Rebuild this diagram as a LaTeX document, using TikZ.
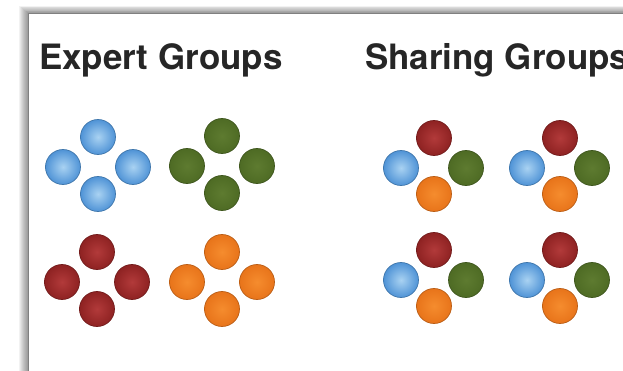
\documentclass[tikz,border=0pt]{standalone}
\usepackage{fontspec}
\newfontfamily\headfont{TeX Gyre Heros}
\definecolor{ballblue}{HTML}{4F93D6}
\definecolor{ballbluein}{HTML}{A9D2F2}
\definecolor{ballgreen}{HTML}{4E6B24}
\definecolor{ballgreenin}{HTML}{5E7B30}
\definecolor{ballred}{HTML}{8E2222}
\definecolor{ballredin}{HTML}{B23A3A}
\definecolor{ballorange}{HTML}{E8741A}
\definecolor{ballorangein}{HTML}{F58C2E}

\begin{document}
\begin{tikzpicture}[x=0.03cm, y=-0.03cm,
    ball/.style={circle, minimum size=1.05cm, inner sep=0pt, line width=0.6pt,
      draw=#1!80!black, inner color=#1in, outer color=#1},
    title/.style={anchor=base west, font=\headfont\bfseries\fontsize{29.8}{33}\selectfont,
      text=black!85, inner sep=0pt}]
  \useasboundingbox (0,0) rectangle (623,371);
  % frame with its shadow
  \foreach \i in {0,...,9}
    \fill[black, opacity=0.05] (28-\i,13-0.8*\i) rectangle (700,450);
  \fill[white] (28,13) rectangle (700,450);
  \draw[black!50, line width=0.7pt] (28,450) -- (28,13) -- (700,13);

  \node[title] (experttitle) at (39,70) {Expert Groups};
  \node[title] (sharingtitle) at (365,70) {Sharing Groups};

  % expert groups: one colour each
  \foreach \g/\cx/\cy/\col in {eb/98/167/ballblue, eg/222/166/ballgreen,
      er/97/282/ballred, eo/222/282/ballorange} {
    \node[ball=\col] (\g-t) at (\cx,\cy-30) {};
    \node[ball=\col] (\g-l) at (\cx-35,\cy) {};
    \node[ball=\col] (\g-r) at (\cx+35,\cy) {};
    \node[ball=\col] (\g-b) at (\cx,\cy+27) {};
  }

  % sharing groups: one of each colour
  \foreach \g/\cx/\cy in {sa/434/168, sb/560/168, sc/434/280, sd/560/280} {
    \node[ball=ballred] (\g-t) at (\cx,\cy-30) {};
    \node[ball=ballblue] (\g-l) at (\cx-33,\cy) {};
    \node[ball=ballgreen] (\g-r) at (\cx+32,\cy) {};
    \node[ball=ballorange] (\g-b) at (\cx,\cy+26) {};
  }
\end{tikzpicture}
\end{document}
